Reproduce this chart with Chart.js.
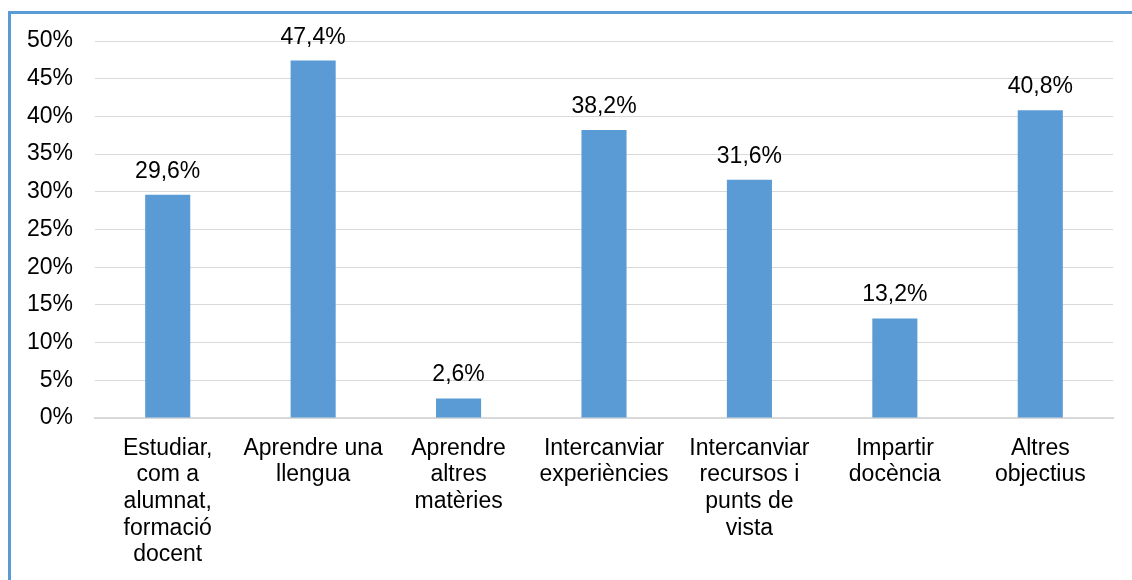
<!DOCTYPE html>
<html>
<head>
<meta charset="utf-8">
<script src="https://cdn.jsdelivr.net/npm/chart.js@4.4.1/dist/chart.umd.min.js"></script>
<style>
  html, body { margin: 0; padding: 0; background: #fff; }
  body { width: 1132px; height: 580px; position: relative; overflow: hidden; }
  #frame { position: absolute; left: 8px; top: 11px; width: 1130px; height: 600px;
           border-left: 3px solid #5B9BD5; border-top: 3px solid #5B9BD5; box-sizing: border-box; }
  #wrap { position: absolute; left: 0; top: 0; width: 1132px; height: 580px; }
</style>
</head>
<body>
<div id="frame"></div>
<div id="wrap"><canvas id="c" width="1132" height="580"></canvas></div>
<script>
const categories = [
  ["Estudiar,", "com a", "alumnat,", "formació", "docent"],
  ["Aprendre una", "llengua"],
  ["Aprendre", "altres", "matèries"],
  ["Intercanviar", "experiències"],
  ["Intercanviar", "recursos i", "punts de", "vista"],
  ["Impartir", "docència"],
  ["Altres", "objectius"]
];
const values = [29.6, 47.4, 2.6, 38.2, 31.6, 13.2, 40.8];
const valueLabels = ["29,6%", "47,4%", "2,6%", "38,2%", "31,6%", "13,2%", "40,8%"];
const yTicks = [0, 5, 10, 15, 20, 25, 30, 35, 40, 45, 50];

const FONT = "'Liberation Sans', Arial, sans-serif";

const valueLabelPlugin = {
  id: 'valueLabels',
  afterDatasetsDraw(chart) {
    const ctx = chart.ctx;
    const meta = chart.getDatasetMeta(0);
    ctx.save();
    ctx.font = "23px " + FONT;
    ctx.fillStyle = "#000";
    ctx.textAlign = "center";
    ctx.textBaseline = "alphabetic";
    meta.data.forEach((bar, i) => {
      ctx.fillText(valueLabels[i], bar.x, bar.y - 17);
    });
    ctx.restore();
  }
};

new Chart(document.getElementById('c'), {
  type: 'bar',
  data: {
    labels: categories,
    datasets: [{
      data: values,
      backgroundColor: '#5B9BD5',
      borderWidth: 0,
      categoryPercentage: 1.0,
      barPercentage: 0.31
    }]
  },
  options: {
    responsive: false,
    animation: false,
    devicePixelRatio: 1,
    layout: { padding: { top: 41, right: 19, bottom: 0, left: 0 } },
    plugins: { legend: { display: false }, tooltip: { enabled: false } },
    scales: {
      y: {
        min: 0, max: 50,
        afterFit(scale) { scale.width = 95; },
        afterBuildTicks(scale) { scale.ticks = yTicks.map(v => ({ value: v })); },
        border: { display: false },
        grid: { color: '#D9D9D9', lineWidth: 1, drawTicks: false },
        ticks: {
          padding: 22,
          color: '#000',
          font: { family: FONT, size: 23 },
          callback: (v) => v + '%'
        }
      },
      x: {
        afterFit(scale) { scale.height = 162; },
        border: { display: true, color: '#D9D9D9', width: 2 },
        grid: { display: false, drawTicks: false },
        ticks: {
          padding: 17,
          color: '#000',
          maxRotation: 0,
          autoSkip: false,
          font: { family: FONT, size: 23, lineHeight: 1.16 }
        }
      }
    }
  },
  plugins: [valueLabelPlugin]
});
</script>
</body>
</html>
